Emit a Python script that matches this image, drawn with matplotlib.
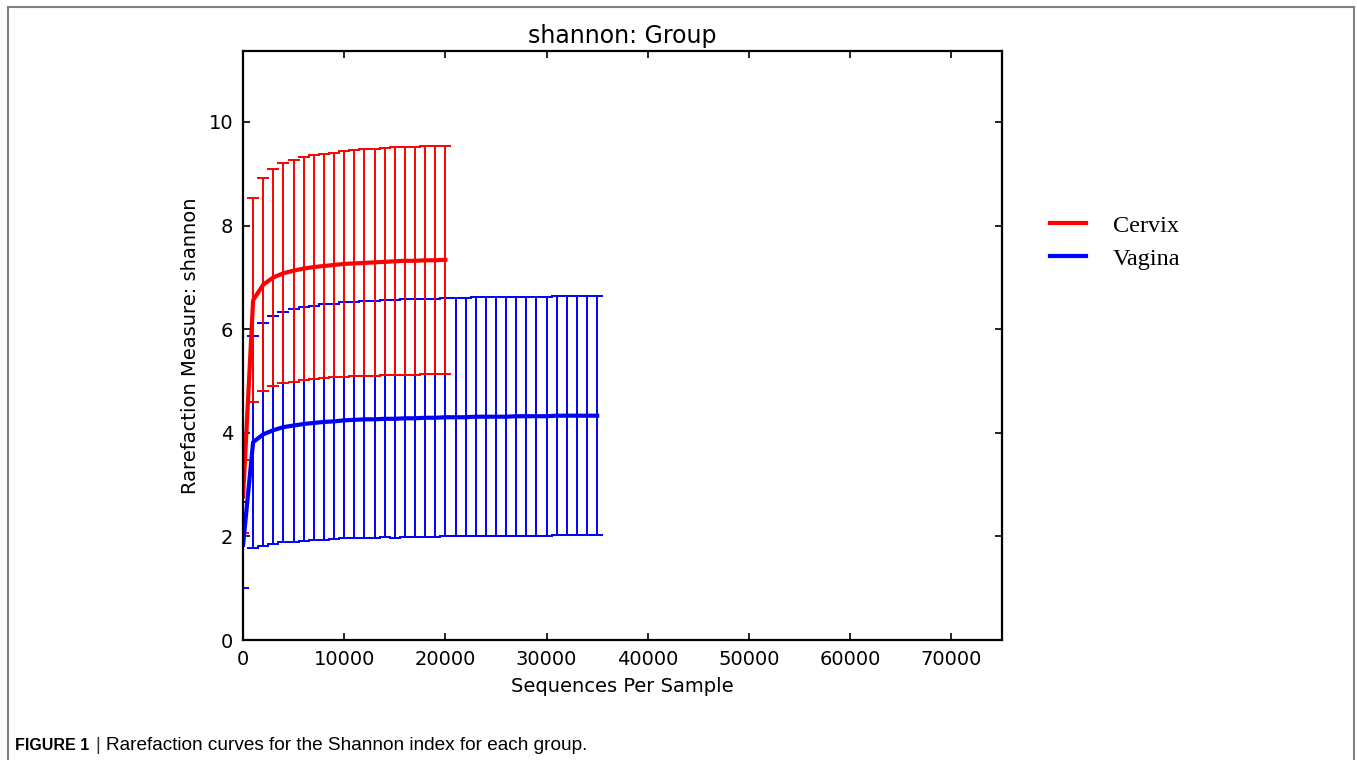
import numpy as np
import matplotlib
matplotlib.use('Agg')
import matplotlib.pyplot as plt
from matplotlib.lines import Line2D

# Rarefaction depths (sequences per sample)
cervix_depth = [10] + list(range(1000, 20001, 1000))
vagina_depth = [10] + list(range(1000, 35001, 1000))

# Mean shannon index and standard deviation at each depth
cervix_mean = [2.77, 6.56, 6.86, 7.00, 7.08, 7.13, 7.17, 7.20, 7.22, 7.24, 7.26,
               7.27, 7.28, 7.29, 7.30, 7.31, 7.32, 7.32, 7.33, 7.33, 7.34]
cervix_sd = [0.71, 1.97, 2.06, 2.09, 2.12, 2.14, 2.15, 2.16, 2.17, 2.17, 2.18,
             2.18, 2.19, 2.19, 2.19, 2.20, 2.20, 2.20, 2.20, 2.20, 2.20]

vagina_mean = [1.84, 3.82, 3.97, 4.05, 4.11, 4.14, 4.17, 4.19, 4.21, 4.22, 4.24,
               4.25, 4.26, 4.26, 4.27, 4.27, 4.28, 4.28, 4.29, 4.29, 4.30,
               4.30, 4.30, 4.31, 4.31, 4.31, 4.31, 4.32, 4.32, 4.32, 4.32,
               4.33, 4.33, 4.33, 4.33, 4.33]
vagina_sd = [0.83, 2.05, 2.15, 2.20, 2.22, 2.24, 2.25, 2.26, 2.27, 2.27, 2.28,
             2.28, 2.29, 2.29, 2.29, 2.30, 2.30, 2.30, 2.30, 2.30, 2.30,
             2.30, 2.30, 2.31, 2.31, 2.31, 2.31, 2.31, 2.31, 2.31, 2.31,
             2.31, 2.31, 2.31, 2.31, 2.31]

fig = plt.figure(figsize=(13.57, 7.6), dpi=100)
ax = fig.add_axes([243 / 1357, 1 - 640 / 760, (1002 - 243) / 1357, (640 - 51) / 760])

# Vagina first so the cervix curve sits on top
for depth, mean, sd, color, label in [
        (vagina_depth, vagina_mean, vagina_sd, '#0000ff', 'Vagina'),
        (cervix_depth, cervix_mean, cervix_sd, '#ff0000', 'Cervix')]:
    ax.errorbar(depth, mean, yerr=sd, color=color, linewidth=3,
                elinewidth=1.4, capsize=4.5, capthick=1.4, label=label)

ax.set_xlim(0, 75000)
ax.set_ylim(0, 11.37)
ax.set_xticks(range(0, 70001, 10000))
ax.set_yticks(range(0, 11, 2))
ax.tick_params(direction='in', top=True, right=True, length=5, width=1.2,
               labelsize=14)
ax.tick_params(axis='x', pad=7)
ax.tick_params(axis='y', pad=7)
for sp in ax.spines.values():
    sp.set_linewidth(1.6)

ax.set_title('shannon: Group', fontsize=17, pad=6)
ax.set_xlabel('Sequences Per Sample', fontsize=14, labelpad=6)
ax.set_ylabel('Rarefaction Measure: shannon', fontsize=14, labelpad=6)

handles = [Line2D([], [], color='#ff0000', lw=3), Line2D([], [], color='#0000ff', lw=3)]
fig.legend(handles, ['Cervix', 'Vagina'], loc='upper left',
           bbox_to_anchor=(1028 / 1357, 1 - 193 / 760), frameon=False,
           prop={'family': 'Liberation Serif', 'size': 17.5},
           handlelength=1.5, handletextpad=1.1, labelspacing=0.45)

# Caption panel frame
frame = dict(color='#808080', linewidth=1.5, transform=fig.transFigure)
fig.add_artist(Line2D([8 / 1357, 8 / 1357], [0, 1 - 7 / 760], **frame))
fig.add_artist(Line2D([8 / 1357, 1354 / 1357], [1 - 7 / 760, 1 - 7 / 760], **frame))
fig.add_artist(Line2D([1354 / 1357, 1354 / 1357], [0, 1 - 7 / 760], **frame))

cap_font = ['Liberation Sans Narrow', 'Liberation Sans', 'DejaVu Sans']
cap_y = 1 - 745 / 760
fig.text(15 / 1357, cap_y, 'FIGURE 1', fontsize=11.5, fontweight='bold',
         family=cap_font, va='center')
fig.text(95 / 1357, cap_y, '|', fontsize=13.5, family=cap_font, va='center',
         color='#333333')
fig.text(106 / 1357, cap_y, 'Rarefaction curves for the Shannon index for each group.',
         fontsize=13.7, family=cap_font, va='center')

fig.savefig('out.png', dpi=100)
